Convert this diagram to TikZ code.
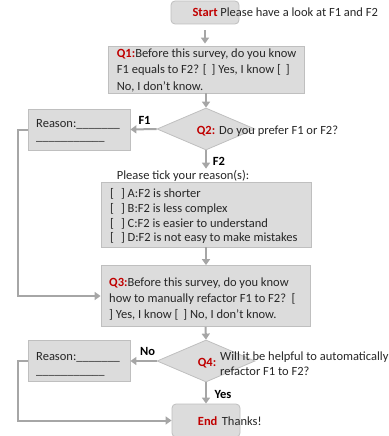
\documentclass[tikz,border=0pt]{standalone}
\usepackage{fontspec}
\setmainfont{Carlito}
\usetikzlibrary{shapes.geometric,arrows.meta}
\definecolor{boxfill}{HTML}{DCDCDC}
\definecolor{boxline}{HTML}{BFBFBF}
\definecolor{arrgray}{HTML}{A6A6A6}
\definecolor{qred}{HTML}{C00000}
\definecolor{txtc}{HTML}{262626}
\newcommand{\qlab}[1]{\textcolor{qred}{\bfseries #1}}
\begin{document}
\begin{tikzpicture}[x=1pt,y=-1pt,
  box/.style={draw=boxline,fill=boxfill,line width=0.8pt,inner sep=0pt},
  rbox/.style={box,rounded corners=4pt},
  dia/.style={diamond,draw=boxline,fill=boxfill,line width=0.8pt,inner sep=0pt,minimum width=98pt,minimum height=42pt},
  arr/.style={draw=arrgray,line width=2pt,-{Triangle[length=6pt,width=8pt]}},
  txt/.style={inner sep=0pt,anchor=base west,text=txtc,font=\fontsize{12.5}{15}\selectfont},
  lab/.style={txt,text=black,font=\fontsize{12.5}{15}\selectfont\bfseries}]
\useasboundingbox (0,0) rectangle (388,436);
% boxes
\node[rbox,minimum width=68pt,minimum height=23pt] (start) at (205,12.5) {};
\node[box,minimum width=196pt,minimum height=47pt] (q1) at (206,69.5) {};
\node[dia] (q2) at (206,129) {};
\node[box,minimum width=102pt,minimum height=41pt] (r1) at (79,129.5) {};
\node[box,minimum width=210pt,minimum height=65pt] (rs) at (206,214.5) {};
\node[box,minimum width=209pt,minimum height=61pt] (q3) at (205.5,296) {};
\node[dia] (q4) at (206,361) {};
\node[box,minimum width=102pt,minimum height=41pt] (r2) at (79,361) {};
\node[rbox,minimum width=68pt,minimum height=33pt] (end) at (206,420.5) {};
% texts
\node[txt] (st) at (192.3,17) {\qlab{Start} Please have a look at F1 and F2};
\node[txt] (q1a) at (116.7,58) {\qlab{Q1:}Before this survey, do you know};
\node[txt] (q1b) at (116.7,74) {F1 equals to F2? [\hspace{5pt}] Yes, I know [\hspace{5pt}]};
\node[txt] (q1c) at (116.7,90) {No, I don’t know.};
\node[txt] (q2l) at (196.7,134) {\qlab{Q2:}};
\node[txt] (q2t) at (219,134) {Do you prefer F1 or F2?};
\node[txt] (r1a) at (36,127) {Reason:\_\_\_\_\_\_\_};
\node[txt] (r1b) at (36,140.5) {\_\_\_\_\_\_\_\_\_\_\_};
\node[lab] (f1lab) at (138.3,124) {F1};
\node[lab] (f2lab) at (212.7,165) {F2};
\node[txt] (tick) at (116.7,179) {Please tick your reason(s):};
\node[txt] (ra) at (110,197) {[\hspace{7pt}] A:F2 is shorter};
\node[txt] (rb) at (110,212) {[\hspace{7pt}] B:F2 is less complex};
\node[txt] (rc) at (110,227) {[\hspace{7pt}] C:F2 is easier to understand};
\node[txt] (rd) at (110,241.5) {[\hspace{7pt}] D:F2 is not easy to make mistakes};
\node[txt] (q3a) at (109,286) {\qlab{Q3:}Before this survey, do you know};
\node[txt] (q3b) at (109,302) {how to manually refactor F1 to F2?\ \ [};
\node[txt] (q3c) at (109,318) {] Yes, I know [\hspace{5pt}] No, I don’t know.};
\node[txt] (q4l) at (197.7,366) {\qlab{Q4:}};
\node[txt] (q4a) at (220,360) {Will it be helpful to automatically};
\node[txt] (q4b) at (220,375) {refactor F1 to F2?};
\node[lab] (nolab) at (140,355) {No};
\node[txt] (r2a) at (36,360) {Reason:\_\_\_\_\_\_\_};
\node[txt] (r2b) at (36,374) {\_\_\_\_\_\_\_\_\_\_\_};
\node[lab] (yeslab) at (214.3,398) {Yes};
\node[txt] (endl) at (197.7,425) {\qlab{End}};
\node[txt] (endt) at (221.7,425) {Thanks!};
% connectors
\draw[arr,shorten <=6pt,shorten >=2pt] (start.south) -- (start.south |- q1.north);
\draw[arr] (q1.south) -- (q2.north);
\draw[arr] (q2.west) -- (r1.east);
\draw[arr,shorten >=1pt] (q2.south) -- (q2.south |- tick.north);
\draw[arr] (rs.south) -- (rs.south |- q3.north);
\draw[arr] (q3.south) -- (q4.north);
\draw[arr] (q4.west) -- (r2.east);
\draw[arr] (q4.south) -- (end.north);
\draw[arr] (r1.west) -- ++(-10,0) |- (q3.west);
\draw[arr] (r2.west) -- ++(-10,0) |- (end.west);
\end{tikzpicture}
\end{document}
